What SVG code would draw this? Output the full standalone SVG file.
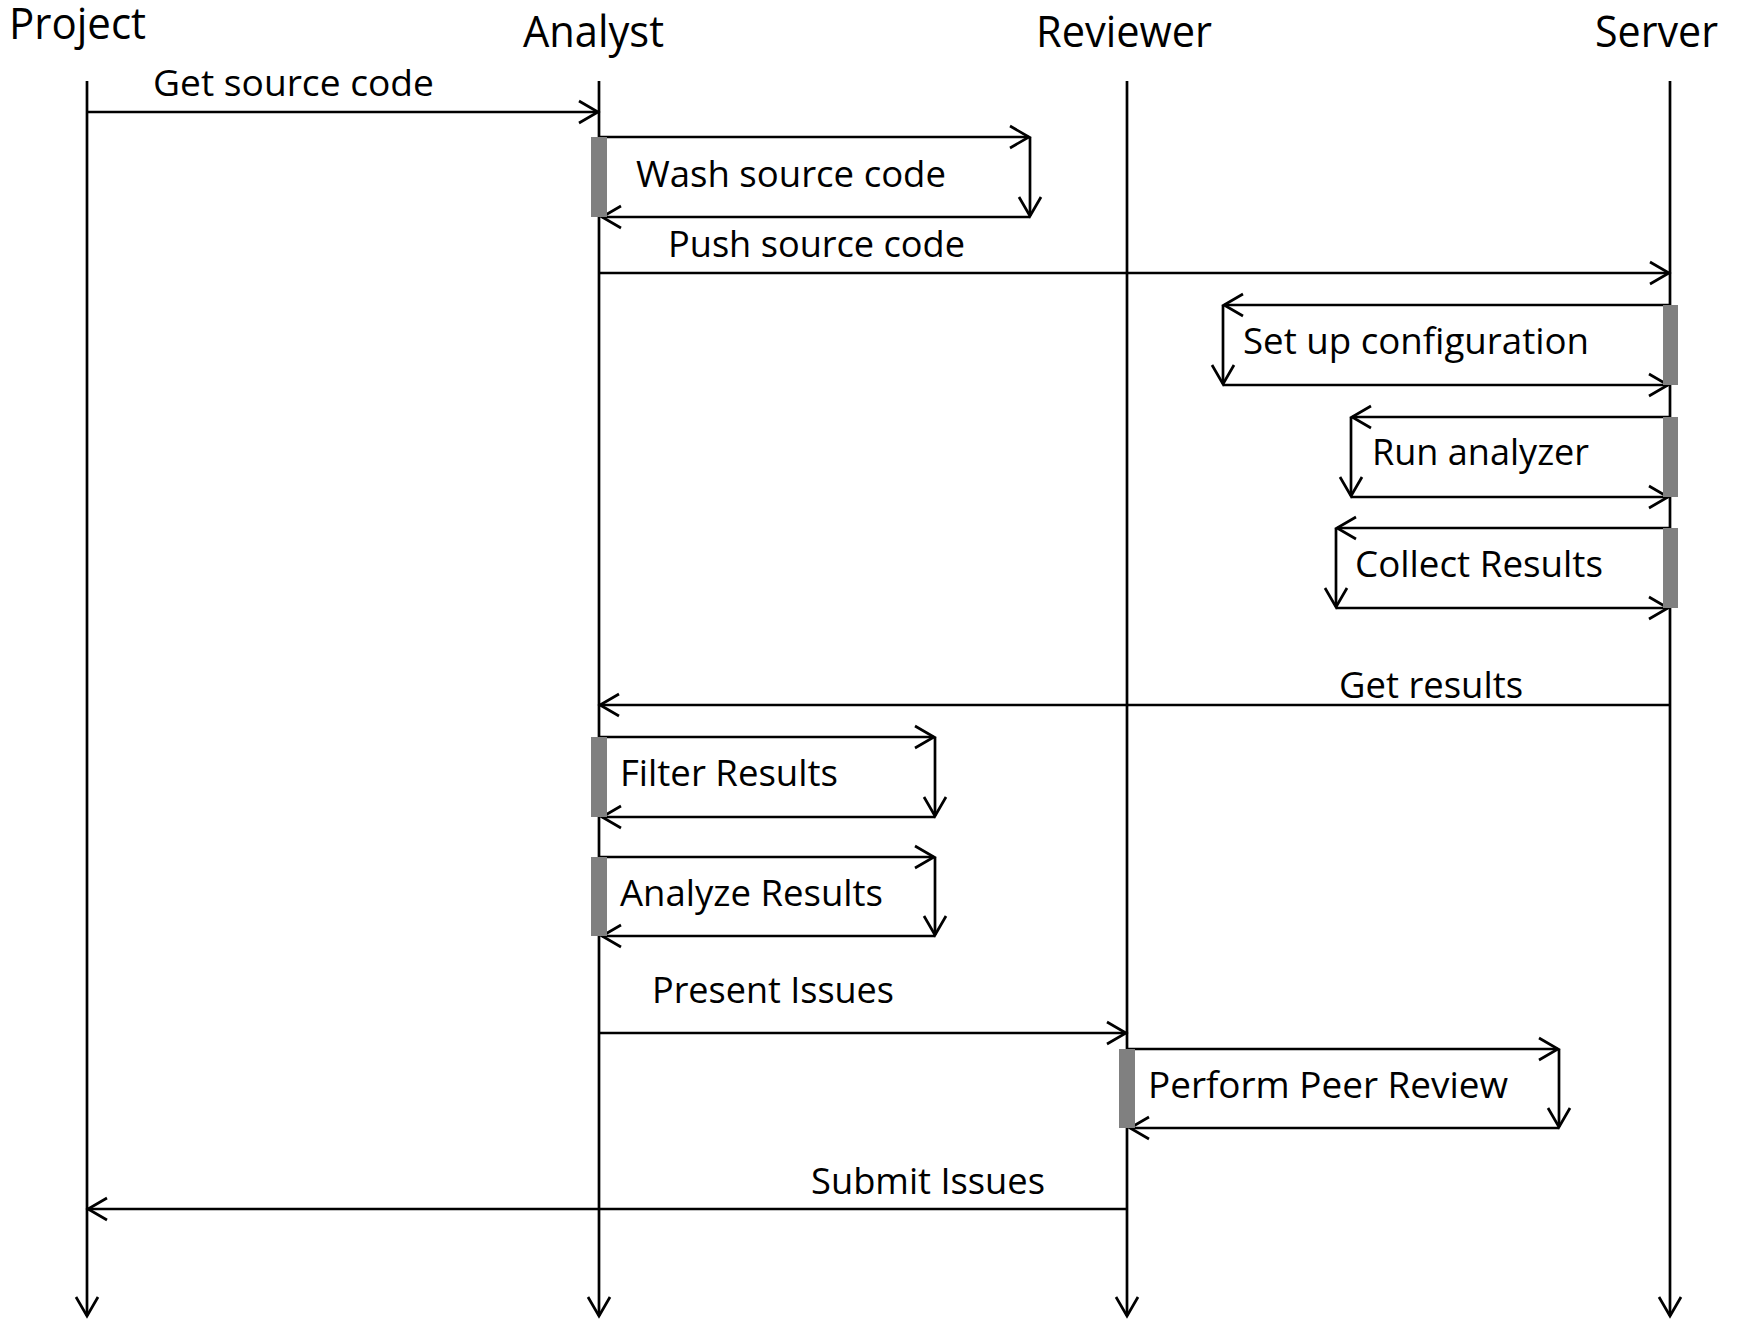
<svg xmlns="http://www.w3.org/2000/svg" width="1744" height="1319" viewBox="0 0 1744 1319">
  <style>
    .ln { stroke: #000; stroke-width: 2.7; fill: none; }
    .arr { marker-end: url(#open); }
    .bar { fill: #808080; stroke: none; }
    .head { font-family: "Open Sans", "Liberation Sans", sans-serif; font-size: 44px; fill: #000; }
    .lbl { font-family: "Open Sans", "Liberation Sans", sans-serif; font-size: 36px; fill: #000; }
  </style>
  <defs>
    <marker id="open" viewBox="0 0 24 26" markerUnits="userSpaceOnUse" markerWidth="24" markerHeight="26" refX="21" refY="13" orient="auto">
      <path d="M2,2 L21,13 L2,24" fill="none" stroke="#000" stroke-width="2.7"/>
    </marker>
  </defs>
  <rect width="1744" height="1319" fill="#fff"/>

  <!-- messages between lifelines, self calls and their labels -->
  <g id="connectors">
    <!-- Get source code -->
    <line class="ln arr" x1="87" y1="112" x2="598" y2="112"/>
    <text class="lbl" x="153" y="96" textLength="281" lengthAdjust="spacingAndGlyphs">Get source code</text>

    <!-- Wash source code (Analyst self call) -->
    <line class="ln arr" x1="599" y1="137" x2="1029" y2="137"/>
    <line class="ln arr" x1="1030" y1="137" x2="1030" y2="216"/>
    <line class="ln arr" x1="1030" y1="217" x2="602" y2="217"/>
    <text class="lbl" x="636" y="187" textLength="310" lengthAdjust="spacingAndGlyphs">Wash source code</text>

    <!-- Push source code -->
    <line class="ln arr" x1="599" y1="273" x2="1669" y2="273"/>
    <text class="lbl" x="668" y="257" textLength="297" lengthAdjust="spacingAndGlyphs">Push source code</text>

    <!-- Set up configuration (Server self call) -->
    <line class="ln arr" x1="1670" y1="305" x2="1224" y2="305"/>
    <line class="ln arr" x1="1223" y1="305" x2="1223" y2="384"/>
    <line class="ln arr" x1="1223" y1="385" x2="1668" y2="385"/>
    <text class="lbl" x="1243" y="354" textLength="346" lengthAdjust="spacingAndGlyphs">Set up configuration</text>

    <!-- Run analyzer -->
    <line class="ln arr" x1="1670" y1="417" x2="1352" y2="417"/>
    <line class="ln arr" x1="1351" y1="417" x2="1351" y2="496"/>
    <line class="ln arr" x1="1351" y1="497" x2="1668" y2="497"/>
    <text class="lbl" x="1372" y="465" textLength="217" lengthAdjust="spacingAndGlyphs">Run analyzer</text>

    <!-- Collect Results -->
    <line class="ln arr" x1="1670" y1="528" x2="1337" y2="528"/>
    <line class="ln arr" x1="1336" y1="528" x2="1336" y2="607"/>
    <line class="ln arr" x1="1336" y1="608" x2="1668" y2="608"/>
    <text class="lbl" x="1355" y="577" textLength="248" lengthAdjust="spacingAndGlyphs">Collect Results</text>

    <!-- Get results -->
    <line class="ln arr" x1="1670" y1="705" x2="600" y2="705"/>
    <text class="lbl" x="1339" y="698" textLength="184" lengthAdjust="spacingAndGlyphs">Get results</text>

    <!-- Filter Results (Analyst self call) -->
    <line class="ln arr" x1="599" y1="737" x2="934" y2="737"/>
    <line class="ln arr" x1="935" y1="737" x2="935" y2="816"/>
    <line class="ln arr" x1="935" y1="817" x2="602" y2="817"/>
    <text class="lbl" x="620" y="786" textLength="218" lengthAdjust="spacingAndGlyphs">Filter Results</text>

    <!-- Analyze Results -->
    <line class="ln arr" x1="599" y1="857" x2="934" y2="857"/>
    <line class="ln arr" x1="935" y1="857" x2="935" y2="935"/>
    <line class="ln arr" x1="935" y1="936" x2="602" y2="936"/>
    <text class="lbl" x="620" y="906" textLength="263" lengthAdjust="spacingAndGlyphs">Analyze Results</text>

    <!-- Present Issues -->
    <line class="ln arr" x1="599" y1="1033" x2="1126" y2="1033"/>
    <text class="lbl" x="652" y="1003" textLength="242" lengthAdjust="spacingAndGlyphs">Present Issues</text>

    <!-- Perform Peer Review (Reviewer self call) -->
    <line class="ln arr" x1="1127" y1="1049" x2="1558" y2="1049"/>
    <line class="ln arr" x1="1559" y1="1049" x2="1559" y2="1127"/>
    <line class="ln arr" x1="1559" y1="1128" x2="1130" y2="1128"/>
    <text class="lbl" x="1148" y="1098" textLength="360" lengthAdjust="spacingAndGlyphs">Perform Peer Review</text>

    <!-- Submit Issues -->
    <line class="ln arr" x1="1127" y1="1209" x2="88" y2="1209"/>
    <text class="lbl" x="811" y="1194" textLength="234" lengthAdjust="spacingAndGlyphs">Submit Issues</text>
  </g>

  <!-- lifelines with their activation bars -->
  <g id="project">
    <text class="head" x="9" y="39" textLength="137" lengthAdjust="spacingAndGlyphs">Project</text>
    <line class="ln arr" x1="87" y1="81" x2="87" y2="1316"/>
  </g>

  <g id="analyst">
    <text class="head" x="523" y="47" textLength="141" lengthAdjust="spacingAndGlyphs">Analyst</text>
    <line class="ln arr" x1="599" y1="81" x2="599" y2="1316"/>
    <rect class="bar" x="591" y="137" width="16" height="80"/>
    <rect class="bar" x="591" y="737" width="16" height="80"/>
    <rect class="bar" x="591" y="857" width="16" height="79"/>
  </g>

  <g id="reviewer">
    <text class="head" x="1036" y="47" textLength="176" lengthAdjust="spacingAndGlyphs">Reviewer</text>
    <line class="ln arr" x1="1127" y1="81" x2="1127" y2="1316"/>
    <rect class="bar" x="1119" y="1049" width="16" height="79"/>
  </g>

  <g id="server">
    <text class="head" x="1595" y="47" textLength="123" lengthAdjust="spacingAndGlyphs">Server</text>
    <line class="ln arr" x1="1670" y1="81" x2="1670" y2="1316"/>
    <rect class="bar" x="1663" y="305" width="15" height="80"/>
    <rect class="bar" x="1663" y="417" width="15" height="80"/>
    <rect class="bar" x="1663" y="528" width="15" height="80"/>
  </g>
</svg>
